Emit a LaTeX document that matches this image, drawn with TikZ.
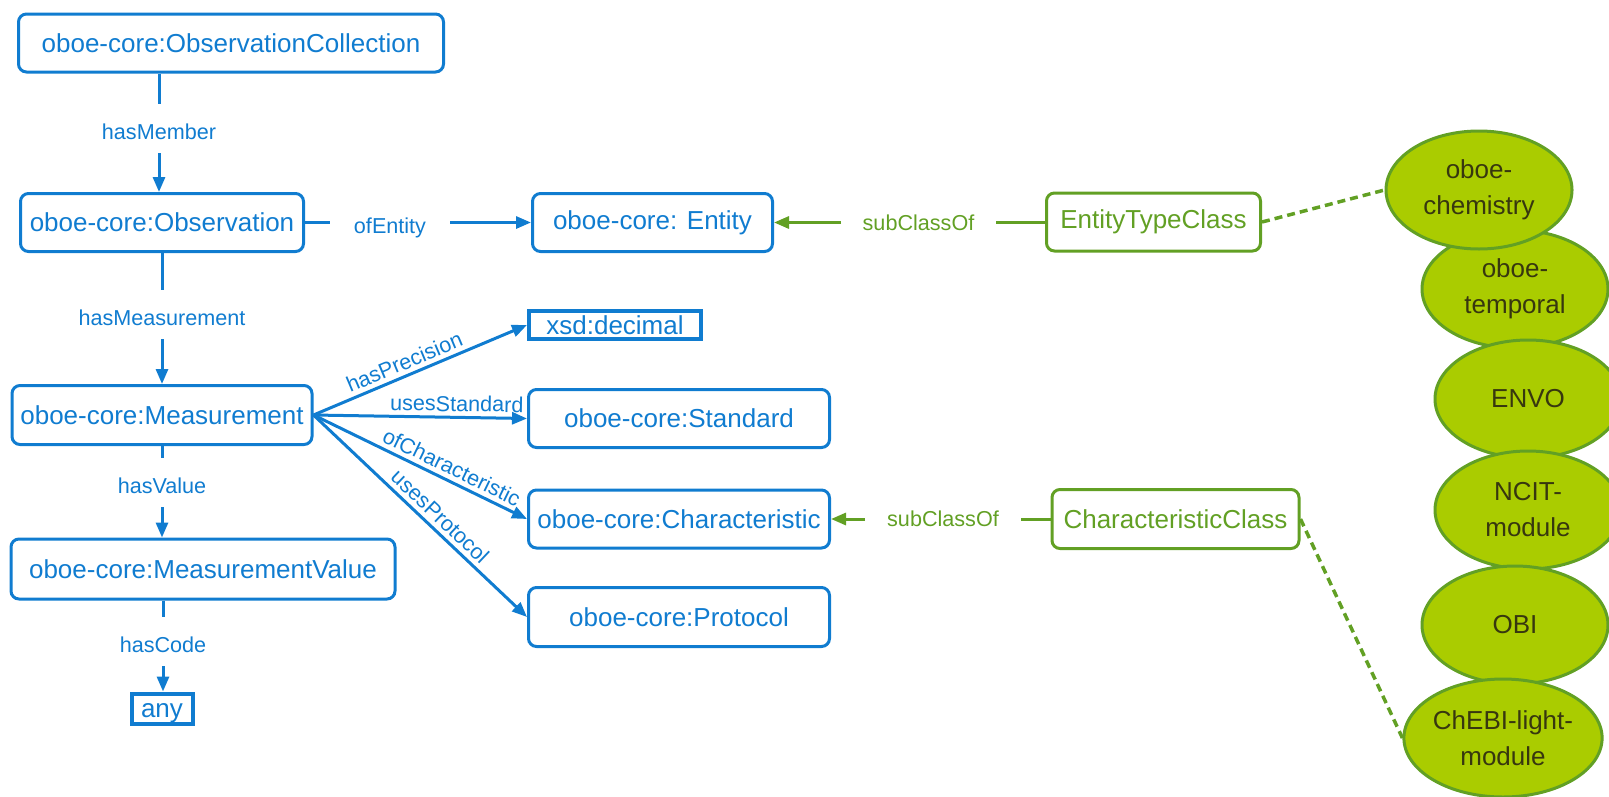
\documentclass[tikz,border=0pt]{standalone}
\usepackage{fontspec}
\setmainfont{Liberation Sans}
\usetikzlibrary{arrows.meta,shapes.geometric}

\definecolor{oboeblue}{RGB}{16,124,208}
\definecolor{oboegreen}{RGB}{98,160,36}
\definecolor{limefill}{RGB}{170,204,0}
\definecolor{darkolive}{RGB}{55,55,15}

\tikzset{
  cls/.style={draw=oboeblue, line width=3pt, rounded corners=8pt, text=oboeblue,
    inner sep=0pt, font=\fontsize{26}{30}\selectfont},
  literal/.style={draw=oboeblue, line width=4pt, text=oboeblue, inner sep=0pt,
    font=\fontsize{26}{30}\selectfont, text height=21pt, text depth=3pt},
  gcls/.style={cls, draw=oboegreen, text=oboegreen},
  elab/.style={text=oboeblue, font=\fontsize{21.6}{24}\selectfont, inner sep=0pt,
    outer sep=0pt, text height=21pt, text depth=0pt},
  slab/.style={elab, text height=16pt, text depth=5pt},
  glab/.style={elab, text=oboegreen},
  rel/.style={draw=oboeblue, line width=3pt},
  relarr/.style={rel, -{Triangle[length=15pt,width=12pt]}},
  grel/.style={draw=oboegreen, line width=3pt},
  grelarr/.style={grel, -{Triangle[length=15pt,width=12pt]}},
  module/.style={ellipse, draw=oboegreen, fill=limefill, line width=3pt, inner sep=0pt,
    minimum width=186pt, minimum height=118pt, text=darkolive, align=center,
    font=\fontsize{26}{36}\selectfont},
  link/.style={draw=oboegreen, line width=3.5pt, dash pattern=on 8pt off 5pt},
}

\begin{document}
\begin{tikzpicture}[x=1pt, y=-1pt]
\useasboundingbox (0,0) rectangle (1609,796);
\clip (0,0) rectangle (1609,796);

% core classes
\node[cls, minimum width=425pt, minimum height=58pt] (oc)   at (231,43)    {oboe-core:ObservationCollection};
\node[cls, minimum width=283pt, minimum height=58pt] (obs)  at (162,222.5) {oboe-core:Observation};
\node[cls, minimum width=300pt, minimum height=59pt] (meas) at (162,415)   {oboe-core:Measurement};
\node[cls, minimum width=384pt, minimum height=60pt] (mv)   at (203,569)   {oboe-core:MeasurementValue};
\node[literal, minimum width=61pt, minimum height=30pt] (any) at (162,708.5) {any};

\node[cls, minimum width=240pt, minimum height=58pt] (ent)  at (652.5,222.5) {oboe-core: Entity};
\node[literal, minimum width=172pt, minimum height=28pt] (xsd) at (615,325) {xsd:decimal};
\node[cls, minimum width=301pt, minimum height=58pt] (std)  at (679,418.5) {oboe-core:Standard};
\node[cls, minimum width=301pt, minimum height=58pt] (chr)  at (679,519)   {oboe-core:Characteristic};
\node[cls, minimum width=301pt, minimum height=59pt] (prot) at (679,617)   {oboe-core:Protocol};

% external class hooks
\node[gcls, minimum width=214pt, minimum height=58pt] (etc) at (1153.5,222) {EntityTypeClass};
\node[gcls, minimum width=247pt, minimum height=59pt] (cc)  at (1175.5,519) {CharacteristicClass};

% vertical relations with their labels in a gap
\node[elab, minimum height=49pt] (hm) at (159,128.5) {hasMember};
\draw[rel] (hm.north |- oc.south) -- (hm.north);
\draw[relarr] (hm.south) -- (hm.south |- obs.north);

\node[elab, minimum height=49pt] (hmeas) at (162,314.5) {hasMeasurement};
\draw[rel] (hmeas.north |- obs.south) -- (hmeas.north);
\draw[relarr] (hmeas.south) -- (hmeas.south |- meas.north);

\node[elab, minimum height=49pt] (hv) at (162,482.5) {hasValue};
\draw[rel] (hv.north |- meas.south) -- (hv.north);
\draw[relarr] (hv.south) -- (hv.south |- mv.north);

\node[elab, minimum height=49pt] (hc) at (163,641.5) {hasCode};
\draw[rel] (hc.north |- mv.south) -- (hc.north);
\draw[relarr] (hc.south) -- (hc.south |- any.north);

% horizontal relations
\node[elab, minimum width=120pt] (ofe) at (390,223) {ofEntity};
\draw[rel] (obs.east) -- (obs.east -| ofe.west);
\draw[relarr] (ofe.east |- ent.west) -- (ent.west);

\node[glab, minimum width=155pt] (sc1) at (918.5,220) {subClassOf};
\draw[grelarr] (sc1.west |- ent.east) -- (ent.east);
\draw[grel] (sc1.east |- etc.west) -- (etc.west);

\node[glab, minimum width=156pt] (sc2) at (943,516) {subClassOf};
\draw[grelarr] (sc2.west |- chr.east) -- (chr.east);
\draw[grel] (sc2.east |- cc.west) -- (cc.west);

% measurement fan-out
\draw[relarr] (meas.east) -- node[slab, sloped, above=1pt, pos=0.45] {hasPrecision} (xsd.west);
\draw[relarr] (meas.east) -- node[slab, sloped, above=1pt, pos=0.67] {usesStandard} (std.west);
\draw[relarr] (meas.east) -- node[slab, sloped, above=1pt, pos=0.62] {ofCharacteristic} (chr.west);
\draw[relarr] (meas.east) -- node[slab, sloped, above=1pt, pos=0.55] {usesProtocol} (prot.west);

% imported modules
\node[module] (tmp)  at (1515,289) {oboe-\\temporal};
\node[module] (envo) at (1528,399) {ENVO};
\node[module] (ncit) at (1528,510) {NCIT-\\module};
\node[module] (obi)  at (1515,625) {OBI};
\node[module] (chebi) at (1503,738) {ChEBI-light-\\module};
\node[module] (chem) at (1479,190) {oboe-\\chemistry};

\draw[link] (etc.east) -- (chem.west);
\draw[link] (cc.east) -- (chebi.west);
\end{tikzpicture}
\end{document}
